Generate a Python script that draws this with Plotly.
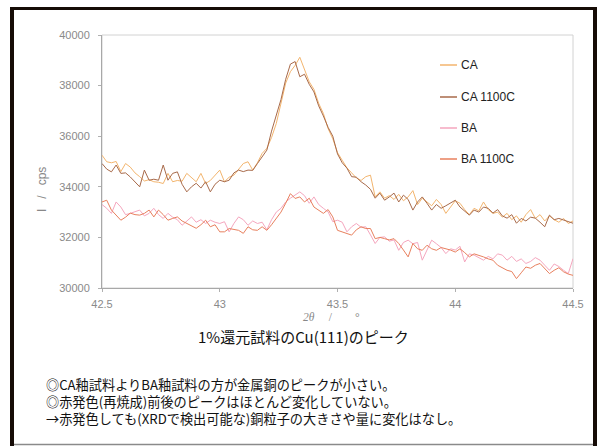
import plotly.graph_objects as go

# XRD scan of the Cu(111) reflection, 0.02 deg step
two_theta = [round(42.5 + 0.02 * i, 2) for i in range(101)]

series_names = ["CA", "CA 1100C", "BA", "BA 1100C"]
series_colors = ["#F3B56E", "#A86A4A", "#F5A6BE", "#E8805E"]

ca = [35250, 34990, 34950, 35000, 34600, 34920, 34780, 34550, 34400, 34230,
      34280, 34200, 34180, 34130, 34530, 34200, 34250, 34220, 34530, 34350,
      34200, 34530, 34130, 34250, 34460, 34660, 34200, 34380, 34460, 34700,
      34920, 34990, 34660, 34950, 35320, 35520, 35950, 36500, 37300, 38100,
      38550, 38800, 39120, 38650, 38150, 37850, 37300, 36900, 36300, 35900,
      35350, 35050, 34750, 34550, 34350, 34250, 34400, 34460, 33600, 33800,
      33550, 33650, 33500, 33700, 33450, 33600, 33850, 33300, 33550, 33400,
      33250, 33500, 33300, 32950, 33200, 33450, 33350, 33100, 32900, 33150,
      33050, 33400, 33100, 32950, 33000, 32800, 32950, 32700, 32850, 32600,
      32900, 33100, 32750, 32900, 32650, 32850, 32700, 32600, 32750, 32550,
      32650]

ca_1100c = [34920, 34700, 34590, 34860, 34530, 34550, 34390, 34200, 34000, 34660,
            34260, 34300, 34260, 34860, 34260, 34530, 34590, 34100, 33800, 34000,
            34140, 33950, 34200, 33800, 34100, 34260, 34200, 34260, 34550, 34660,
            34600, 34660, 34650, 34920, 35200, 35450, 36200, 36800, 37450, 38250,
            38850, 38950, 38350, 38450, 38050, 37750, 37200, 36800, 36350, 36000,
            35300, 34950, 34740, 34400, 34380, 34200, 34070, 33900, 33550, 33750,
            33470, 33600, 33750, 33400, 33670, 33500, 33080, 33400, 33600, 33350,
            33080, 33300, 33150, 33250, 33350, 33470, 33200, 33050, 32880, 33080,
            33000, 33200, 33150, 32960, 33100, 32850, 32760, 32900, 32560, 32750,
            32650, 32800, 32760, 32600, 32420, 32880, 32700, 32750, 32680, 32600,
            32560]

ba = [33300, 33150, 32950, 33400, 33200, 32900, 32950, 33000, 33080, 32850,
      32950, 33150, 32900, 32750, 32950, 32800, 32700, 32480, 32650, 32810,
      32600, 32700, 32550, 32680, 32600, 32550, 32620, 32220, 32550, 32810,
      32700, 32480, 32650, 32550, 32600, 32300, 32700, 33000, 33150, 33400,
      33550, 33670, 33800, 33650, 33350, 33600, 33300, 33150, 33010, 32620,
      32680, 32600, 32220, 32420, 32550, 32400, 32420, 32100, 31760, 32000,
      32020, 31850, 31900, 31490, 31800, 31890, 31750, 31800, 31100, 31500,
      31890, 31750, 31600, 31360, 31550, 31500, 31650, 31030, 31350, 31300,
      31200, 31100, 31250, 31150, 31350, 31300, 31100, 31250, 31050, 31150,
      30970, 31050, 31200, 31100, 30900, 30700, 30950, 30850, 30700, 30570,
      31160]

ba_1100c = [33400, 33470, 33080, 32900, 32680, 32800, 32960, 32900, 32880, 32950,
            33080, 32810, 33080, 32900, 32680, 32750, 32810, 32650, 32550, 32450,
            32360, 32500, 32680, 32420, 32500, 32220, 32220, 32350, 32300, 32280,
            32160, 32420, 32300, 32280, 32420, 32280, 32500, 32750, 33000, 33350,
            33730, 33540, 33600, 33400, 33550, 33200, 33080, 32950, 33100, 32810,
            32280, 32220, 32150, 32090, 32300, 32420, 32350, 32350, 31950, 32000,
            31950, 31900, 31950, 31760, 31500, 31230, 31760, 31550, 31490, 31690,
            31550, 31490, 31600, 31560, 31500, 31420, 31550, 31400, 31230, 31350,
            31300, 31230, 31150, 31100, 30900, 30800, 30700, 30650, 30370, 30600,
            30830, 30780, 30900, 30970, 30750, 30570, 30700, 30800, 30640, 30550,
            30500]

x_ticks = [42.5, 43, 43.5, 44, 44.5]
x_tick_labels = ["42.5", "43", "43.5", "44", "44.5"]
y_ticks = [30000, 32000, 34000, 36000, 38000, 40000]

caption = "1%還元試料のCu(111)のピーク"
notes = [
    "◎CA釉試料よりBA釉試料の方が金属銅のピークが小さい。",
    "◎赤発色(再焼成)前後のピークはほとんど変化していない。",
    "→赤発色しても(XRDで検出可能な)銅粒子の大きさや量に変化はなし。",
]

W, H = 599, 446
L, R, T, B = 102, 26, 35, 158
PW, PH = W - L - R, H - T - B


def px(xp):
    return (xp - L) / PW


def py(yp):
    return 1 - (yp - T) / PH


fig = go.Figure()
for name, color, ys in zip(series_names, series_colors, [ca, ca_1100c, ba, ba_1100c]):
    fig.add_trace(go.Scatter(x=two_theta, y=ys, mode="lines", name=name,
                             line=dict(color=color, width=1)))

shapes = []
annotations = []

# plot-area box
shapes.append(dict(type="rect", xref="paper", yref="paper", x0=0, x1=1, y0=0, y1=1,
                   line=dict(color="#d2d2d2", width=1), layer="below"))

# legend drawn inside the plot area
leg_y = [65, 97, 128, 159]
for name, color, yy in zip(series_names, series_colors, leg_y):
    shapes.append(dict(type="line", xref="paper", yref="paper",
                       x0=px(440), x1=px(457), y0=py(yy), y1=py(yy),
                       line=dict(color=color, width=1.5)))
    annotations.append(dict(xref="paper", yref="paper", x=px(459), y=py(yy),
                            xanchor="left", yanchor="middle", showarrow=False,
                            text=name,
                            font=dict(family="Liberation Sans", size=12, color="#222222")))

# axis titles
annotations.append(dict(xref="paper", yref="paper", x=px(42), y=py(190),
                        xanchor="center", yanchor="middle", showarrow=False, textangle=-90,
                        text="I\u00a0\u00a0\u00a0/\u00a0\u00a0\u00a0cps",
                        font=dict(family="Liberation Sans", size=12, color="#888888")))
annotations.append(dict(xref="paper", yref="paper", x=px(331), y=py(316.5),
                        xanchor="center", yanchor="middle", showarrow=False,
                        text="<i>2θ</i>\u00a0\u00a0\u00a0\u00a0\u00a0/\u00a0\u00a0\u00a0\u00a0\u00a0\u00a0\u00a0\u00a0°",
                        font=dict(family="Liberation Serif", size=11.5, color="#888888")))

# caption and notes
annotations.append(dict(xref="paper", yref="paper", x=px(303), y=py(336),
                        xanchor="center", yanchor="middle", showarrow=False, text=caption,
                        font=dict(family="Noto Sans CJK JP", size=15, color="#111111")))
annotations.append(dict(xref="paper", yref="paper", x=px(44), y=py(401),
                        xanchor="left", yanchor="middle", align="left", showarrow=False,
                        text="<br>".join(notes),
                        font=dict(family="Noto Sans CJK JP", size=13.2, color="#111111")))

# outer frame
frame = "#160c06"
for x0, x1, y0, y1 in [(10, 597, 7, 10), (10, 14, 7, 446), (593, 597, 7, 446)]:
    shapes.append(dict(type="rect", xref="paper", yref="paper",
                       x0=px(x0), x1=px(x1), y0=py(y1), y1=py(y0),
                       fillcolor=frame, line=dict(width=0)))
shapes.append(dict(type="line", xref="paper", yref="paper",
                   x0=px(14), x1=px(593), y0=py(444.5), y1=py(444.5),
                   line=dict(color="#8a8a8a", width=1.5)))

fig.update_layout(
    width=W, height=H,
    margin=dict(l=L, r=R, t=T, b=B),
    paper_bgcolor="white", plot_bgcolor="white",
    showlegend=False,
    shapes=shapes, annotations=annotations,
    xaxis=dict(range=[42.5, 44.5], tickvals=x_ticks, ticktext=x_tick_labels,
               ticks="outside", ticklen=3, tickcolor="#b0b0b0",
               showgrid=False, zeroline=False, showline=True, linecolor="#a8a8a8",
               tickfont=dict(family="Liberation Sans", size=11, color="#8a8a8a"),
               ticklabelstandoff=3),
    yaxis=dict(range=[30000, 40000], tickvals=y_ticks, tickformat="d",
               ticks="outside", ticklen=3, tickcolor="#b0b0b0",
               showgrid=False, zeroline=False, showline=True, linecolor="#a8a8a8",
               tickfont=dict(family="Liberation Sans", size=11, color="#8a8a8a"),
               ticklabelstandoff=6),
)

fig.write_html("out.html")
